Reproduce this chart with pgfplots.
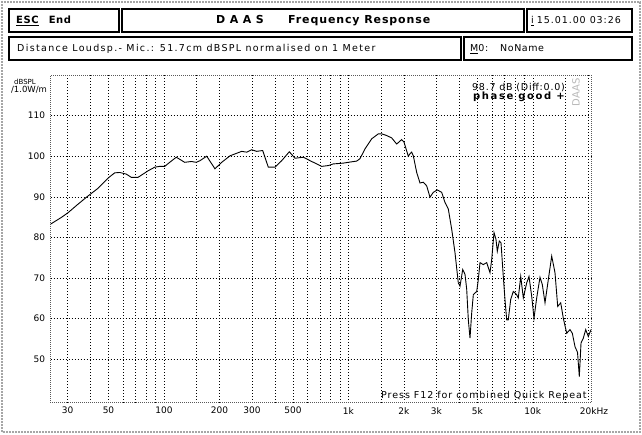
\documentclass[border=0pt]{standalone}
\usepackage{pgfplots}
\pgfplotsset{compat=1.18}
\usepackage{fontspec}
\setmainfont{DejaVu Sans}
\newcommand{\ls}[1]{\addfontfeature{LetterSpace=#1}}

\begin{document}
\begin{tikzpicture}[x=1pt,y=1pt]
\useasboundingbox (0,0) rectangle (642,434);
\fill[white] (0,0) rectangle (642,434);
% outer frame
\draw[gray!70, line width=2pt, densely dotted] (2,2) rectangle (640,432);

% header boxes
\tikzset{box/.style={draw=black, line width=1.8pt}}
\draw[box] (9,402) rectangle (119,425);
\draw[box] (122,402) rectangle (524,425);
\draw[box] (527,402) rectangle (632,425);
\draw[box] (9,374) rectangle (461,397);
\draw[box] (464,374) rectangle (632,397);

\node[anchor=base west, inner sep=0pt, font=\fontsize{10}{12}\selectfont\bfseries\ls{6}] at (16,410) {\underline{ESC}\hspace{10pt}End};
\node[anchor=base west, inner sep=0pt, font=\fontsize{11}{12}\selectfont\bfseries] at (216,410) {D\hspace{4.5pt}A\hspace{4.5pt}A\hspace{4.5pt}S};
\node[anchor=base west, inner sep=0pt, font=\fontsize{11}{12}\selectfont\bfseries\ls{8}] at (288,410) {Frequency Response};
\node[anchor=base west, inner sep=0pt, font=\fontsize{9.5}{12}\selectfont\ls{10}] at (531,410) {\underline{i}\hspace{3pt}15.01.00 03:26};
\node[anchor=base west, inner sep=0pt, font=\fontsize{9.5}{12}\selectfont\ls{14}] at (17,382) {Distance Loudsp.- Mic.: 51.7cm dBSPL normalised on 1 Meter};
\node[anchor=base west, inner sep=0pt, font=\fontsize{9.5}{12}\selectfont\ls{6}] at (470,382) {\underline{M}0:\hspace{12pt}NoName};

\begin{axis}[
    at={(50.7pt,31.3pt)}, anchor=south west,
    scale only axis,
    width=540.3pt, height=327.7pt,
    xmode=log,
    xmin=24.3, xmax=20685,
    ymin=39.3, ymax=120,
    axis line style={draw=gray!70!black, line width=1pt, densely dotted},
    xtick={30,50,100,200,300,500,1000,2000,3000,5000,10000,20000},
    xticklabels={30,50,100,200,300,500,1k,2k,3k,5k,10k,20k\rlap{Hz}},
    minor xtick={40,60,70,80,90,150,400,600,700,800,900,1500,4000,6000,7000,8000,9000,15000},
    ytick={50,60,70,80,90,100,110},
    grid=both,
    major grid style={black, line width=0.6pt, dash pattern=on 0.8pt off 2.2pt},
    minor grid style={black, line width=0.6pt, dash pattern=on 0.8pt off 2.2pt},
    major tick length=0pt, minor tick length=0pt,
    /pgf/number format/assume math mode=true,
    ticklabel style={font=\fontsize{9}{11}\selectfont},
    yticklabel style={xshift=-2pt},
    xticklabel style={yshift=-1pt},
    clip=true,
]
\addplot[black, line width=0.9pt] coordinates {
(24.3,83.3) (27.7,84.9) (30.2,86.1) (34.2,88.2) (38.7,90.2) (43.9,92.1)
(49.7,94.6) (54.0,95.9) (57.5,96.0) (62.4,95.6) (66.5,94.8) (72.3,94.8)
(77.0,95.6) (81.9,96.4) (89.1,97.3) (94.8,97.5) (100.9,97.5) (107.4,98.5)
(116.6,99.75) (129.5,98.5) (140.6,98.7) (149.7,98.5) (156.7,98.9) (170.5,100)
(189.0,96.9) (205.6,98.5) (228.0,100.1) (263.9,101.2) (280.9,101.0) (298.9,101.6)
(318.2,101.2) (343.0,101.4) (367.8,97.3) (399.9,97.3) (434.8,98.9) (478.1,101.1)
(513.3,99.5) (569.4,99.75) (632.4,98.7) (716.5,97.5) (778.0,97.7) (828.0,98.1)
(938.3,98.3) (998.9,98.5) (1109,98.8) (1156,99.4) (1230,101.8) (1338,104.3)
(1453,105.5) (1516,105.5) (1613,105.1) (1717,104.5) (1828,103.0) (1945,104.1)
(2002,103.5) (2112,100) (2158,100.6) (2204,101.0) (2249,100.1) (2346,96.0)
(2445,93.4) (2548,93.6) (2658,92.7) (2770,89.9) (2887,91.1) (3035,91.7)
(3206,91.1) (3341,88.6) (3482,87.0) (3633,82.0) (3786,76.2) (3945,68.8)
(4030,68.0) (4168,72.1) (4290,70.9) (4381,67.2) (4470,59.7) (4565,55.2)
(4663,61.4) (4758,65.9) (4964,66.7) (5063,69.6) (5172,73.8) (5390,73.3)
(5623,73.8) (5860,71.3) (5986,74.6) (6161,81.2) (6316,79.5) (6420,76.6)
(6582,79.1) (6723,78.7) (6918,70.4) (7066,64.7) (7218,59.7) (7364,59.7)
(7587,64.7) (7838,66.7) (8179,65.9) (8343,65.1) (8600,70.4) (8883,65.1)
(9266,68.8) (9536,70.4) (9863,65.5) (10150,60.1) (10498,65.1) (10940,70.2)
(11260,68.4) (11646,63.9) (12136,69.6) (12662,75.4) (13194,71.3) (13646,63.0)
(14170,63.9) (14637,60.1) (15270,56.4) (15911,57.3) (16378,56.4) (16936,53.1)
(17479,51.7) (17877,45.7) (18260,54.0) (18793,55.2) (19364,57.3) (20000,55.6)
(20685,57.3)
};
\end{axis}

% axis annotations
\node[font=\fontsize{7}{8}\selectfont] at (25,352.5) {dBSPL};
\node[font=\fontsize{8.5}{10}\selectfont] at (29,344) {/1.0W/m};
\node[anchor=west, inner sep=0pt, font=\fontsize{9.5}{11}\selectfont\ls{8}] at (472,346) {98.7 dB (Diff:0.0)};
\node[anchor=west, inner sep=0pt, font=\fontsize{10}{11}\selectfont\bfseries\ls{16}] at (473,337) {phase good +};
\node[rotate=90, text=gray!55, font=\fontsize{10}{11}\selectfont] at (576,341.5) {DAAS};
\node[anchor=west, inner sep=0pt, font=\fontsize{9.5}{11}\selectfont\ls{10}] at (381,38) {Press F12 for combined Quick Repeat};
\end{tikzpicture}
\end{document}
